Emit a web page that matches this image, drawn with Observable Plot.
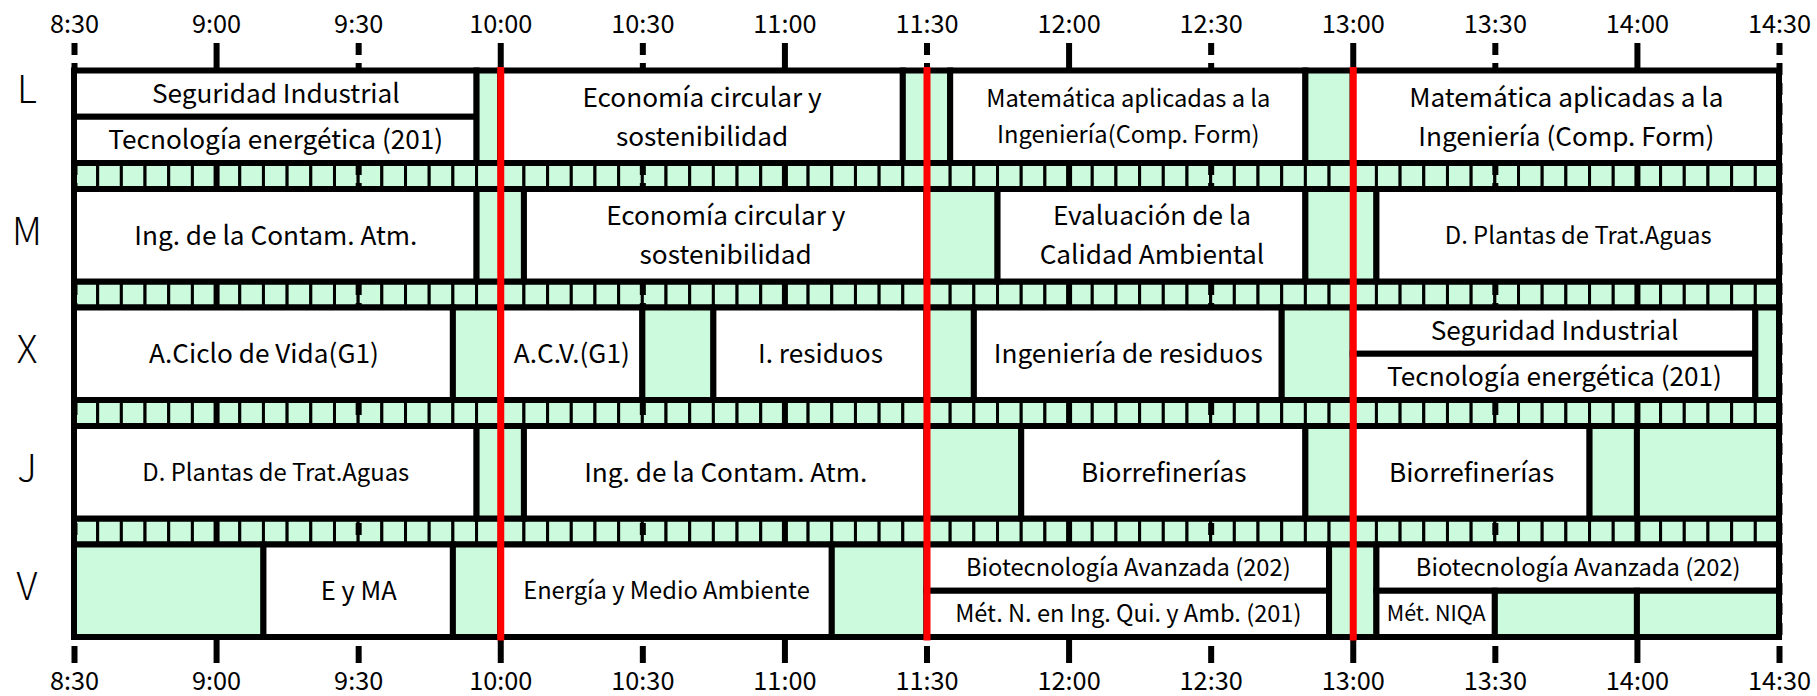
<!DOCTYPE html>
<html>
<head>
<meta charset="utf-8">
<script src="https://cdn.jsdelivr.net/npm/d3@7"></script>
<script src="https://cdn.jsdelivr.net/npm/@observablehq/plot@0.6"></script>
<style>
  html, body { margin: 0; padding: 0; background: #fff; }
</style>
</head>
<body>
<div id="chart"></div>
<script>
// ---------- data ----------
const days = ["L", "M", "X", "J", "V"];
const tickLabels = ["8:30","9:00","9:30","10:00","10:30","11:00","11:30","12:00","12:30","13:00","13:30","14:00","14:30"];
const breakTimes = ["10:00", "11:30", "13:00"];

const cellDay = ["L","L","L","L","L","L","L","L",
  "M","M","M","M","M","M","M",
  "X","X","X","X","X","X","X","X","X","X","X",
  "J","J","J","J","J","J","J","J","J",
  "V","V","V","V","V","V","V","V","V","V","V","V"];
const cellStart = ["8:30","8:30","9:55","10:00","11:25","11:35","12:50","13:00",
  "8:30","9:55","10:05","11:30","11:45","12:50","13:05",
  "8:30","9:50","10:00","10:30","10:45","11:30","11:40","12:45","13:00","13:00","14:25",
  "8:30","9:55","10:05","11:30","11:50","12:50","13:00","13:50","14:00",
  "8:30","9:10","9:50","10:00","11:10","11:30","11:30","12:55","13:05","13:05","13:30","14:00"];
const cellEnd = ["9:55","9:55","10:00","11:25","11:35","12:50","13:00","14:30",
  "9:55","10:05","11:30","11:45","12:50","13:05","14:30",
  "9:50","10:00","10:30","10:45","11:30","11:40","12:45","13:00","14:25","14:25","14:30",
  "9:55","10:05","11:30","11:50","12:50","13:00","13:50","14:00","14:30",
  "9:10","9:50","10:00","11:10","11:30","12:55","12:55","13:05","14:30","13:30","14:00","14:30"];
const cellPart = ["top","bottom","full","full","full","full","full","full",
  "full","full","full","full","full","full","full",
  "full","full","full","full","full","full","full","full","top","bottom","full",
  "full","full","full","full","full","full","full","full","full",
  "full","full","full","full","full","top","bottom","full","top","bottom","bottom","bottom"];
const cellText = ["Seguridad Industrial","Tecnología energética (201)","","Economía circular y\nsostenibilidad","","Matemática aplicadas a la\nIngeniería(Comp. Form)","","Matemática aplicadas a la\nIngeniería (Comp. Form)",
  "Ing. de la Contam. Atm.","","Economía circular y\nsostenibilidad","","Evaluación de la\nCalidad Ambiental","","D. Plantas de Trat.Aguas",
  "A.Ciclo de Vida(G1)","","A.C.V.(G1)","","I. residuos","","Ingeniería de residuos","","Seguridad Industrial","Tecnología energética (201)","",
  "D. Plantas de Trat.Aguas","","Ing. de la Contam. Atm.","","Biorrefinerías","","Biorrefinerías","","",
  "","E y MA","","Energía y Medio Ambiente","","Biotecnología Avanzada (202)","Mét. N. en Ing. Qui. y Amb. (201)","","Biotecnología Avanzada (202)","Mét. NIQA","",""];

// ---------- layout / style ----------
const FONT = "'Noto Sans CJK JP', 'Noto Sans', sans-serif";
const GREEN = "#ccfadc";
const ROW = 92.5, GAP = 26, PERIOD = ROW + GAP;
const H = days.length * ROW + (days.length - 1) * GAP;
const BASE_SIZE = 26.2;
const smallSize = new Map([
  ["Matemática aplicadas a la\nIngeniería(Comp. Form)", 23.7],
  ["D. Plantas de Trat.Aguas", 23.8],
  ["Energía y Medio Ambiente", 23.7],
  ["Biotecnología Avanzada (202)", 23.7],
  ["Mét. N. en Ing. Qui. y Amb. (201)", 23.6],
  ["Mét. NIQA", 21.5],
  ["E y MA", 25.5]
]);
const toMin = s => { const [h, m] = s.split(":").map(Number); return h * 60 + m; };
const tickMins = tickLabels.map(toMin);
const X0 = tickMins[0], X1 = tickMins[tickMins.length - 1];
const labelOf = new Map(tickMins.map((m, i) => [m, tickLabels[i]]));

const cells = cellDay.map((d, i) => {
  const top = days.indexOf(d) * PERIOD;
  let y1 = top, y2 = top + ROW;
  if (cellPart[i] === "top") y2 = top + ROW / 2;
  if (cellPart[i] === "bottom") y1 = top + ROW / 2;
  return {day: d, x1: toMin(cellStart[i]), x2: toMin(cellEnd[i]), y1, y2, text: cellText[i]};
});
// day label sits level with the first cell of its row
const firstCell = new Map();
for (const c of cells) if (!firstCell.has(c.day)) firstCell.set(c.day, c);

const strips = [];
for (let g = 0; g < days.length - 1; g++) {
  const y1 = g * PERIOD + ROW, y2 = y1 + GAP;
  for (let m = X0; m < X1; m += 5) strips.push({x1: m, x2: m + 5, y1, y2});
}
const stripFrames = d3.range(days.length - 1).map(g => ({x1: X0, x2: X1, y1: g * PERIOD + ROW, y2: g * PERIOD + ROW + GAP}));

const hourTicks = tickMins.filter(m => m % 60 === 0);
const halfTicks = tickMins.filter(m => m % 60 !== 0);

const chart = Plot.plot({
  width: 1817,
  height: 696,
  marginLeft: 74,
  marginRight: 38,
  marginTop: 70.5,
  marginBottom: 59,
  style: {fontFamily: FONT, background: "white", color: "black"},
  x: {domain: [X0, X1], axis: null},
  y: {domain: [0, H], reverse: true, axis: null},
  marks: [
    Plot.rect(strips, {x1: "x1", x2: "x2", y1: "y1", y2: "y2", fill: GREEN, stroke: "black", strokeWidth: 3}),
    Plot.ruleX(hourTicks, {x: d => d, y1: -27.5, y2: H + 26, stroke: "black", strokeWidth: 6}),
    Plot.ruleX(halfTicks, {x: d => d, y1: -27.5, y2: H, stroke: "black", strokeWidth: 6, strokeDasharray: "12,8"}),
    Plot.ruleX(halfTicks, {x: d => d, y1: H + 9, y2: H + 26, stroke: "black", strokeWidth: 6}),
    Plot.rect(stripFrames, {x1: "x1", x2: "x2", y1: "y1", y2: "y2", fill: "none", stroke: "black", strokeWidth: 6}),
    Plot.rect(cells, {x1: "x1", x2: "x2", y1: "y1", y2: "y2", fill: d => d.text ? "white" : GREEN, stroke: "black", strokeWidth: 6}),
    Plot.text(cells.filter(d => d.text), {
      x: d => (d.x1 + d.x2) / 2, y: d => (d.y1 + d.y2) / 2, text: "text", dy: -3.5,
      fontSize: d => smallSize.get(d.text) ?? BASE_SIZE, lineHeight: 1.48, lineAnchor: "middle", fill: "black"
    }),
    Plot.ruleX(breakTimes.map(toMin), {x: d => d, y1: -3.5, y2: H + 3.5, stroke: "#ff0000", strokeWidth: 7}),
    Plot.text(days, {
      frameAnchor: "left", textAnchor: "middle", dx: -47.5, dy: -3,
      y: d => (firstCell.get(d).y1 + firstCell.get(d).y2) / 2, text: d => d,
      fontSize: 38, fontWeight: 300, lineAnchor: "middle"
    }),
    Plot.axisX(tickMins, {anchor: "top", tickSize: 0, tickPadding: 46, lineAnchor: "middle", fontSize: 25.3, tickFormat: m => labelOf.get(m)}),
    Plot.axisX(tickMins, {anchor: "bottom", tickSize: 0, tickPadding: 44, lineAnchor: "middle", fontSize: 25.3, tickFormat: m => labelOf.get(m)})
  ]
});
document.getElementById("chart").append(chart);
</script>
</body>
</html>
